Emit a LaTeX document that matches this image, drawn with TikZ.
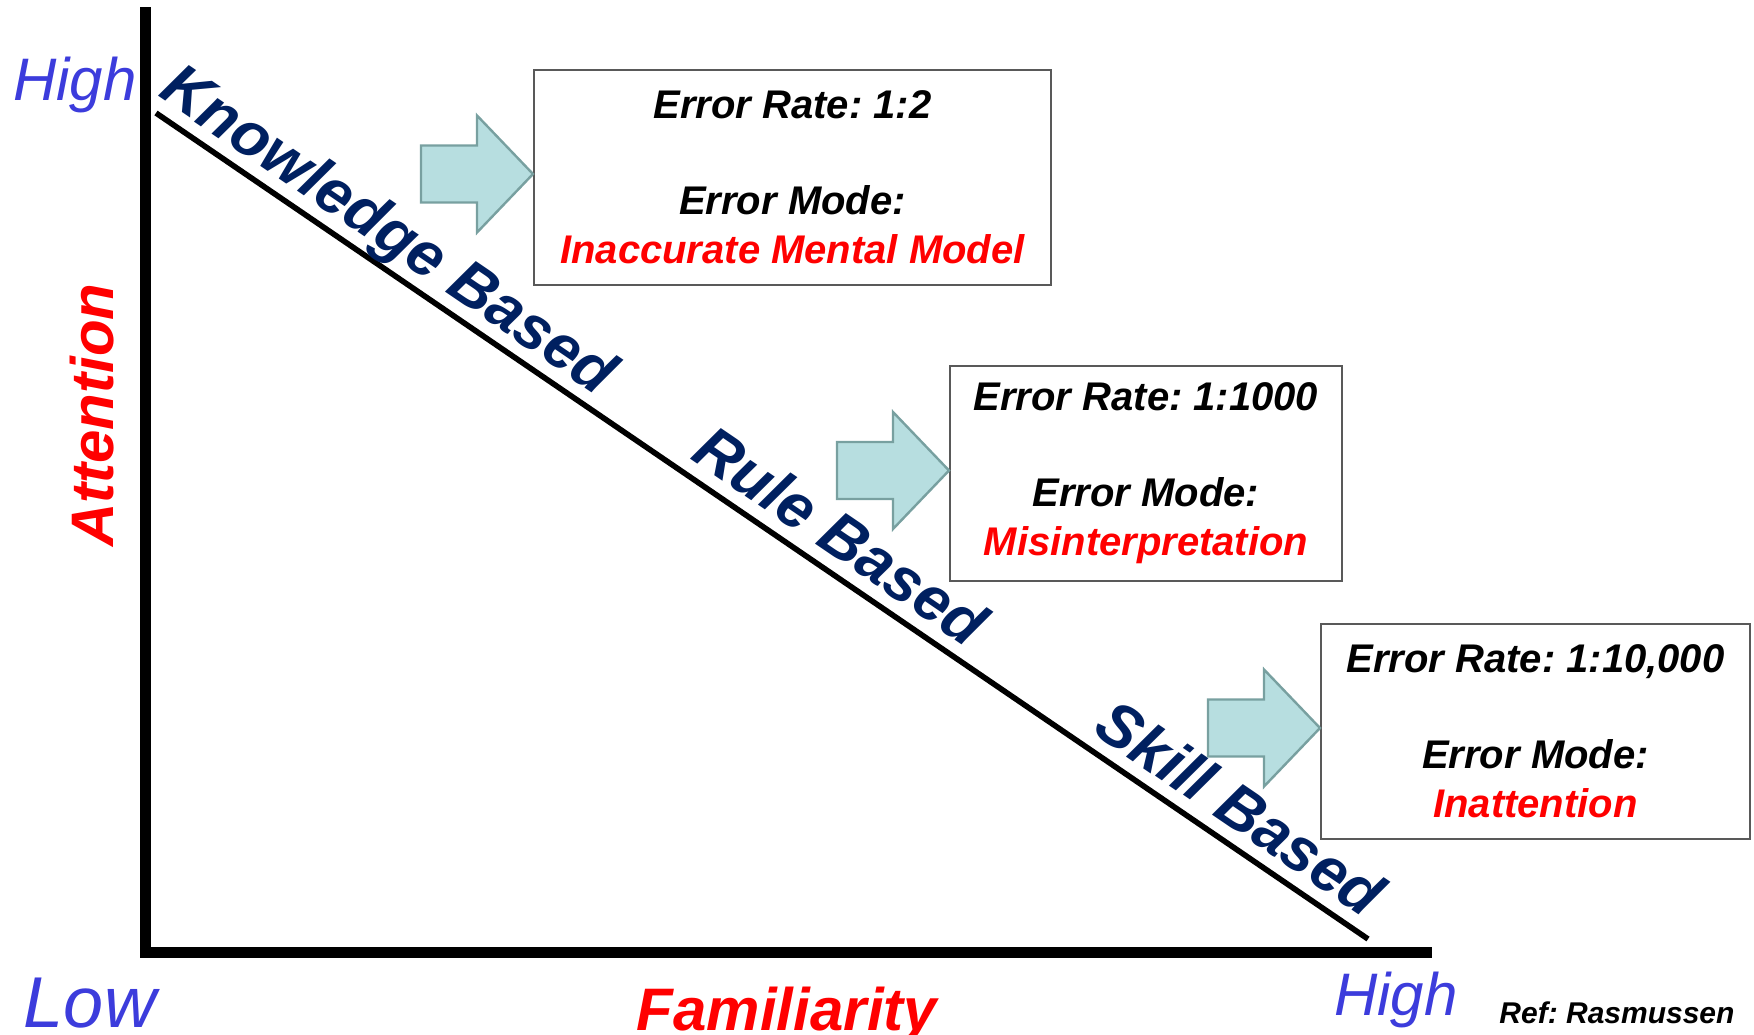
\documentclass[tikz,border=0pt]{standalone}
\usepackage{fontspec}
\setmainfont{Liberation Sans}
\usepackage{tikz}
\usetikzlibrary{positioning}
\frenchspacing

\definecolor{lvlblue}{RGB}{0,32,96}
\definecolor{axblue}{RGB}{60,60,220}
\definecolor{arrfill}{RGB}{183,222,224}
\definecolor{arrdraw}{RGB}{120,160,160}
\definecolor{boxdraw}{RGB}{89,89,89}

\tikzset{
  errbox/.style={draw=boxdraw, line width=1pt, align=center, inner sep=0pt,
    minimum height=107.5pt, font=\fontsize{20}{24.5}\selectfont\bfseries\itshape},
  levellbl/.style={rotate=-34.27, anchor=south, text depth=0pt, inner xsep=0pt, inner ysep=6pt,
    text=lvlblue, font=\fontsize{31}{31}\selectfont\bfseries\itshape},
  endlbl/.style={anchor=base, inner sep=0pt, text=axblue, font=\itshape},
  axistitle/.style={anchor=base, inner sep=0pt, text=red, font=\fontsize{30}{30}\selectfont\bfseries\itshape},
  blockarrow/.style={fill=arrfill, draw=arrdraw, line width=1.2pt, line join=miter}
}

\begin{document}
\begin{tikzpicture}[x=0.5pt,y=0.5pt,yscale=-1,xscale=1]
        %set diagram left start at 0, and has height of 1034
        \useasboundingbox (0,0) rectangle (1754,1034);
        \fill[white] (0,0) rectangle (1754,1034);

        %Axes
        \coordinate (ytop) at (145.5,7);
        \coordinate (origin) at (145.5,952.5);
        \coordinate (xend) at (1432,952.5);
        \draw[line width=5.5pt, line join=miter] (ytop) -- (origin) -- (xend);

        %Straight Lines: attention vs familiarity
        \coordinate (kstart) at (156,113);
        \coordinate (send) at (1368,939);
        \draw[line width=2.8pt] (kstart) -- (send)
          node[levellbl, pos=0.176] (kblbl) {Knowledge Based}
          node[levellbl, pos=0.548] (rblbl) {Rule Based}
          node[levellbl, pos=0.878] (sblbl) {Skill Based};

        %Shape: Rectangle boxes
        \node[errbox, minimum width=258.5pt] (kbbox) at (792.5,177)
          {Error Rate: 1:2\\[23.5pt]Error Mode:\\\textcolor{red}{Inaccurate Mental Model}};
        \node[errbox, minimum width=196pt] (rbbox) at (1146,473.5)
          {Error Rate: 1:1000\\[23.5pt]Error Mode:\\\textcolor{red}{Misinterpretation}};
        \node[errbox, minimum width=214.5pt] (sbbox) at (1535.5,731)
          {Error Rate: 1:10,000\\[23.5pt]Error Mode:\\\textcolor{red}{Inattention}};

        %Block arrows into the boxes
        \foreach \b in {kbbox,rbbox,sbbox}
          \draw[blockarrow] (\b.west) ++(0,-3) -- ++(-56,-58.5) -- ++(0,30) -- ++(-56,0)
            -- ++(0,57) -- ++(56,0) -- ++(0,30) -- cycle;

        % Text Node
        \node[endlbl, font=\fontsize{30}{30}\selectfont\itshape] (yhigh) at (75,100) {High};
        % Text Node
        \node[endlbl, font=\fontsize{36}{36}\selectfont\itshape] (xlow) at (90,1027) {Low};
        % Text Node
        \node[endlbl, font=\fontsize{30}{30}\selectfont\itshape] (xhigh) at (1396,1015) {High};
        % Text Node
        \node[axistitle] (xtitle) at (787,1030) {Familiarity};
        % Text Node
        \node[axistitle, rotate=90] (ytitle) at (113,415) {Attention};
        % Text Node
        \node[anchor=base, inner sep=0pt, font=\fontsize{15}{15}\selectfont\bfseries\itshape] (ref) at (1617,1023) {Ref: Rasmussen};
\end{tikzpicture}
\end{document}
